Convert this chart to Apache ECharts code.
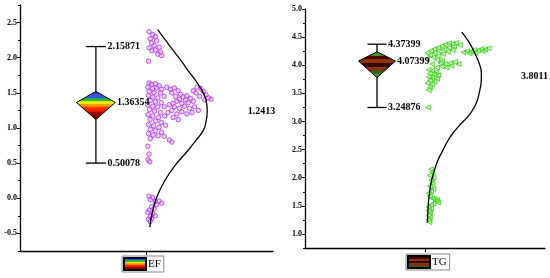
<!DOCTYPE html>
<html>
<head>
<meta charset="utf-8">
<script src="https://cdn.jsdelivr.net/npm/echarts@6/dist/echarts.min.js"></script>
<style>
  html, body { margin: 0; padding: 0; background: #fff; }
  #chart { width: 550px; height: 278px; }
</style>
</head>
<body>
<div id="chart"></div>
<script>
// group names
const groups = ['EF', 'TG'];

// y-axis ticks
const efTicks = [-0.5, 0, 0.5, 1, 1.5, 2, 2.5];
const efMinor = [-0.75, -0.25, 0.25, 0.75, 1.25, 1.75, 2.25, 2.75];
const tgTicks = [1, 1.5, 2, 2.5, 3, 3.5, 4, 4.5, 5];
const tgMinor = [0.75, 1.25, 1.75, 2.25, 2.75, 3.25, 3.75, 4.25, 4.75];

// whisker ends [top, bottom], diamond [top, mean, bottom], centre of fitted curve
const efWhisker = [2.15871, 0.50078];
const efDiamond = [1.52, 1.36354, 1.12];
const efFitCentre = 1.2413;
const tgWhisker = [4.37399, 3.24876];
const tgDiamond = [4.24, 4.07399, 3.78];
const tgFitCentre = 3.8011;

// raw points [jitter, value]
const efPoints = [
  [51, 2.37], [52.5, 2.33], [53.5, 2.30], [51.5, 2.27], [54, 2.24], [52, 2.21], [53, 2.17], [55, 2.15],
  [51, 2.14], [53.5, 2.11], [55.5, 2.08], [52, 2.10], [54.5, 2.05], [56, 2.03], [50.8, 1.95],
  [51, 1.64], [52, 1.62], [53.5, 1.63], [55, 1.60], [50.5, 1.58], [52.5, 1.56], [54, 1.57], [56, 1.55],
  [51, 1.52], [53, 1.50], [55.5, 1.50], [50.8, 1.46], [52.5, 1.44], [54.5, 1.43], [57, 1.45], [51.5, 1.39],
  [53.5, 1.37], [55.8, 1.36], [50.5, 1.33], [52.5, 1.31], [54.5, 1.30], [57, 1.30], [51.2, 1.26], [53.2, 1.24],
  [55.5, 1.22], [50.6, 1.19], [52.5, 1.17], [54.8, 1.15], [57.2, 1.17], [51.4, 1.12], [53.6, 1.10], [55.8, 1.08],
  [50.8, 1.05], [52.8, 1.03], [55, 1.01], [57.5, 1.04], [51.5, 0.98], [53.5, 0.96], [56, 0.94], [50.8, 0.92],
  [52.6, 0.90], [54.6, 0.89], [57, 0.88], [59, 0.83], [60, 0.80], [51.5, 0.85],
  [50.5, 0.74], [51, 0.63], [50.6, 0.55], [51.3, 0.52],
  [58, 1.58], [59.5, 1.55], [61, 1.57], [62.5, 1.53], [60, 1.50], [63.5, 1.48], [61.5, 1.45], [64.5, 1.44],
  [66, 1.46], [63, 1.41], [65.5, 1.40], [67.5, 1.42], [68.5, 1.38], [66.5, 1.36], [64, 1.35], [62, 1.38],
  [60.5, 1.35], [59, 1.33], [61, 1.30], [63, 1.28], [65, 1.31], [67, 1.28], [69, 1.30], [70.5, 1.25],
  [68, 1.22], [66, 1.20], [64, 1.23], [62, 1.20], [60, 1.25], [58.5, 1.22], [60.5, 1.15], [62.5, 1.12],
  [70, 1.58], [71.5, 1.56], [72.5, 1.52], [73.5, 1.47], [74.5, 1.43], [75.5, 1.41], [73, 1.40], [71, 1.45],
  [69.5, 1.50], [68.5, 1.53],
  [51, 0.03], [52.5, 0.01], [51.5, -0.02], [53.5, -0.05], [55, -0.04], [56, -0.07], [54, -0.09], [52, -0.12],
  [53, -0.15], [51, -0.17], [50.5, -0.20], [52.5, -0.22], [51.5, -0.26], [53.5, -0.25], [52, -0.29],
  [50.8, -0.30], [51.5, -0.33]
];
const tgPoints = [
  [51, 4.22], [52.5, 4.26], [54, 4.29], [55.5, 4.31], [57, 4.34], [58.5, 4.37], [60, 4.39], [61.5, 4.38],
  [63, 4.40], [64.5, 4.36], [62, 4.33], [60, 4.31], [58, 4.28], [56, 4.25], [54, 4.22], [52, 4.18],
  [53.5, 4.14], [55.5, 4.16], [57.5, 4.20], [59.5, 4.24], [61.5, 4.27], [51, 4.12], [55, 4.10], [57, 4.08],
  [56.5, 4.04], [58.5, 4.02], [60.5, 4.04], [62.5, 4.06], [64, 4.02], [61, 3.99], [59, 3.96], [57, 3.98],
  [55, 3.96], [53, 4.02],
  [66, 4.23], [67.5, 4.25], [69, 4.24], [70.5, 4.27], [72, 4.26], [73.5, 4.29], [75, 4.28], [76.5, 4.30],
  [74, 4.25], [71, 4.22], [68.5, 4.21],
  [51.5, 3.92], [53, 3.90], [54.5, 3.88], [52, 3.85], [54, 3.83], [55.5, 3.82], [51.5, 3.79], [53, 3.77],
  [55, 3.76], [52, 3.73], [54, 3.71], [51, 3.68], [53, 3.66], [52, 3.60], [51.5, 3.56], [51.2, 3.25],
  [52.5, 2.15], [53, 2.10], [52, 2.04], [53.5, 2.00], [52.5, 1.96], [53, 1.90], [52, 1.85], [53.5, 1.80],
  [52.5, 1.76], [51.5, 1.72], [52, 1.67], [53, 1.63], [54, 1.62], [55, 1.60], [54.5, 1.58], [55.5, 1.56],
  [53.5, 1.54], [52.5, 1.52], [51.5, 1.48], [52.5, 1.45], [51.5, 1.42], [52, 1.38], [51.5, 1.33], [52, 1.29],
  [51.5, 1.25], [51.8, 1.21]
];

// fitted curve
const efCurve = [
  [54.4, 2.40], [57.5, 2.25], [60.4, 2.11], [63.8, 1.95], [66.8, 1.80], [69.3, 1.68], [71.0, 1.59],
  [72.6, 1.49], [73.5, 1.40], [74.0, 1.25], [73.6, 1.10], [72.5, 0.97], [69.0, 0.80], [66.4, 0.68],
  [61.8, 0.49], [57.2, 0.25], [54.0, 0.01], [52.2, -0.22], [51.3, -0.41]
];
const tgCurve = [
  [65.3, 4.59], [68.2, 4.42], [70.8, 4.21], [72.6, 4.03], [73.5, 3.85], [73.4, 3.70], [72.8, 3.55],
  [71.3, 3.32], [68.5, 3.12], [64.8, 2.95], [61.8, 2.80], [59.7, 2.67], [57.0, 2.45], [54.9, 2.26],
  [52.8, 1.96], [51.7, 1.67], [51.2, 1.40], [51.0, 1.20]
];

const font = 'Liberation Serif';
const black = '#000';

const G = echarts.graphic.LinearGradient;
const efFill = new G(0, 0, 0, 1, [
  {offset: 0, color: '#3a34b8'}, {offset: 0.12, color: '#3a34b8'},
  {offset: 0.12, color: '#3456ee'}, {offset: 0.24, color: '#3456ee'},
  {offset: 0.24, color: '#22a84a'}, {offset: 0.34, color: '#2fc02a'},
  {offset: 0.34, color: '#c4ea1e'}, {offset: 0.44, color: '#ffe800'},
  {offset: 0.44, color: '#ffaa00'}, {offset: 0.56, color: '#ff7a00'},
  {offset: 0.56, color: '#ff3a00'}, {offset: 0.72, color: '#dd1400'},
  {offset: 0.72, color: '#a80000'}, {offset: 1, color: '#700000'}
]);
const tgFill = new G(0, 0, 0, 1, [
  {offset: 0, color: '#5a9a3a'}, {offset: 0.16, color: '#4a8a2a'},
  {offset: 0.16, color: '#4a0505'}, {offset: 0.3, color: '#4a0505'},
  {offset: 0.3, color: '#8b3510'}, {offset: 0.45, color: '#8b3510'},
  {offset: 0.45, color: '#3a0505'}, {offset: 0.6, color: '#3a0505'},
  {offset: 0.6, color: '#8b3a10'}, {offset: 0.75, color: '#7a3010'},
  {offset: 0.75, color: '#2a6a1a'}, {offset: 0.85, color: '#2a6a1a'},
  {offset: 0.85, color: '#4a9a3a'}, {offset: 1, color: '#4a9a3a'}
]);

function whisker(params, api) {
  const top = api.coord([30, api.value(0)]);
  const bot = api.coord([30, api.value(1)]);
  const l = api.coord([26, api.value(0)])[0];
  const r = api.coord([34, api.value(0)])[0];
  const st = {stroke: black, lineWidth: 1.3};
  return {type: 'group', children: [
    {type: 'line', shape: {x1: top[0], y1: top[1], x2: bot[0], y2: bot[1]}, style: st},
    {type: 'line', shape: {x1: l, y1: top[1], x2: r, y2: top[1]}, style: st},
    {type: 'line', shape: {x1: l, y1: bot[1], x2: r, y2: bot[1]}, style: st}
  ]};
}

function diamond(params, api) {
  const t = api.coord([30, api.value(0)]);
  const b = api.coord([30, api.value(2)]);
  const L = api.coord([22.3, api.value(1)]);
  const R = api.coord([37.7, api.value(1)]);
  return {
    type: 'polygon',
    shape: {points: [t, R, b, L]},
    style: api.style({stroke: black, lineWidth: 1})
  };
}

function label(params, api) {
  const p = api.coord([api.value(0), api.value(1)]);
  return {
    type: 'text', x: p[0], y: p[1],
    style: {
      text: String(api.value(1)), fill: black, fontFamily: font, fontWeight: 'bold',
      fontSize: 10, align: 'left', verticalAlign: 'middle'
    }
  };
}

function yAxes(grid, min, max, ticks, minor) {
  return [{
    gridIndex: grid, type: 'value', position: 'left', min: min, max: max,
    axisLine: {show: true, onZero: false, lineStyle: {color: black, width: 1.3}},
    axisTick: {show: true, customValues: ticks, length: 3, lineStyle: {color: black, width: 1}},
    axisLabel: {
      customValues: ticks, formatter: (v) => v.toFixed(1), margin: 3,
      fontFamily: font, fontWeight: 'bold', fontSize: 8, color: black
    },
    splitLine: {show: false}
  }, {
    gridIndex: grid, type: 'value', position: 'left', min: min, max: max,
    axisLine: {show: false, onZero: false},
    axisTick: {show: true, customValues: minor, length: 2, lineStyle: {color: black, width: 1}},
    axisLabel: {show: false},
    splitLine: {show: false}
  }];
}

function xAxis(grid) {
  return {
    gridIndex: grid, type: 'value', min: 0, max: 100,
    axisLine: {onZero: false, lineStyle: {color: black, width: 1.3}},
    axisTick: {show: true, customValues: [50], length: 4, lineStyle: {color: black, width: 1}},
    axisLabel: {show: false},
    splitLine: {show: false}
  };
}

function panel(idx, name, fill, whiskerVals, diamondVals, points, curve, fitCentre, pointStyle) {
  const x = idx, y = idx * 2;
  return [{
    type: 'custom', name: name + ' whisker', xAxisIndex: x, yAxisIndex: y, z: 2,
    renderItem: whisker, data: [whiskerVals]
  }, {
    type: 'custom', name: name, xAxisIndex: x, yAxisIndex: y, z: 3,
    itemStyle: {color: fill, borderColor: black, borderWidth: 1},
    renderItem: diamond, data: [diamondVals]
  }, Object.assign({
    type: 'scatter', name: name + ' points', xAxisIndex: x, yAxisIndex: y, z: 4,
    data: points
  }, pointStyle), {
    type: 'line', name: name + ' curve', xAxisIndex: x, yAxisIndex: y, z: 5,
    smooth: true, showSymbol: false, symbol: 'none',
    lineStyle: {color: black, width: 1.3}, data: curve
  }, {
    type: 'custom', name: name + ' labels', xAxisIndex: x, yAxisIndex: y, z: 6,
    renderItem: label,
    data: [[34.6, whiskerVals[0]], [38.3, diamondVals[1]], [34.6, whiskerVals[1]], [90, fitCentre]]
  }];
}

function legend(name, left, top) {
  return {
    data: [name], left: left, top: top, selectedMode: false,
    icon: 'rect', itemWidth: 22, itemHeight: 12, itemGap: 2,
    padding: [1, 3, 1, 1], borderColor: '#888', borderWidth: 1,
    textStyle: {fontFamily: font, fontSize: 11, color: black, padding: [0, 0, 0, -3]}
  };
}

var myChart = echarts.init(document.getElementById('chart'));

myChart.setOption({
  animation: false,
  backgroundColor: '#fff',
  grid: [
    {left: 20, top: 5, right: 277, bottom: 27},
    {left: 305, top: 9, right: 5, bottom: 30}
  ],
  legend: [legend(groups[0], 122, 256), legend(groups[1], 406, 254)],
  xAxis: [xAxis(0), xAxis(1)],
  yAxis: yAxes(0, -0.75, 2.75, efTicks, efMinor).concat(yAxes(1, 0.75, 5, tgTicks, tgMinor)),
  series: panel(0, groups[0], efFill, efWhisker, efDiamond, efPoints, efCurve, efFitCentre, {
    symbol: 'circle', symbolSize: 4.5,
    itemStyle: {color: 'rgba(255, 130, 255, 0.55)', borderColor: '#9b3de6', borderWidth: 1}
  }).concat(panel(1, groups[1], tgFill, tgWhisker, tgDiamond, tgPoints, tgCurve, tgFitCentre, {
    symbol: 'triangle', symbolSize: 5, symbolRotate: 90,
    itemStyle: {color: 'rgba(150, 255, 120, 0.6)', borderColor: '#3ccc1e', borderWidth: 1}
  }))
});
</script>
</body>
</html>
